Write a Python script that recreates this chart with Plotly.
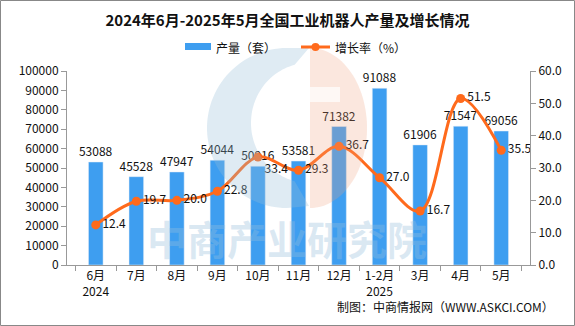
import numpy as np
import plotly.graph_objects as go

months = ["6月<br>2024", "7月", "8月", "9月", "10月", "11月", "12月", "1-2月<br>2025", "3月", "4月", "5月"]
output = [53088, 45528, 47947, 54044, 50916, 53581, 71382, 91088, 61906, 71547, 69056]
growth = [12.4, 19.7, 20.0, 22.8, 33.4, 29.3, 36.7, 27.0, 16.7, 51.5, 35.5]
growth_label_pos = ["middle right"] * 4 + ["bottom right"] + ["middle right"] * 6

W, H = 575, 326
L, R, T, B = 67, 45, 71, 61
PW, PH = W - L - R, H - T - B

BAR_C = "#3E9EF0"
LINE_C = "#FF6A1C"

def px(x):
    return (x - L) / PW

def py(y):
    return (H - B - y) / PH

def poly(points):
    return "M " + " L ".join(f"{px(x):.4f},{py(y):.4f}" for x, y in points) + " Z"

CJK = "Noto Sans CJK SC"

fig = go.Figure()
fig.add_trace(go.Bar(
    x=months, y=output, name="产量（套）",
    marker=dict(color=BAR_C),
    text=[str(v) for v in output], textposition="outside",
    textfont=dict(family=CJK, size=12, color="#111"),
    constraintext="none",
    cliponaxis=False, width=0.36, showlegend=False,
))
fig.add_trace(go.Scatter(
    x=months, y=growth, name="增长率（%）", yaxis="y2",
    mode="lines+markers+text",
    line=dict(color=LINE_C, width=3, shape="spline", smoothing=1.0),
    marker=dict(color=LINE_C, size=9),
    text=[f"{v:.1f}" for v in growth], textposition=growth_label_pos,
    textfont=dict(family=CJK, size=12, color="#111"),
    cliponaxis=False, showlegend=False,
))

shapes = []
# Watermark logo (decorative)
cx, cy, r = 287, 128, 80
th = np.linspace(np.pi / 2, 3 * np.pi / 2, 60)
outer = [(cx + r * np.cos(t), cy - r * np.sin(t)) for t in th]
th2 = np.linspace(3 * np.pi / 2 - 0.25, np.pi / 2 + 0.25, 60)
inner = [(cx + 22 + 58 * np.cos(t), cy - 5 - 60 * np.sin(t)) for t in th2]
blue_pts = [(cx + 22, cy - r)] + outer + [(cx + 22, cy + r - 2)] + inner
shapes.append(dict(type="path", path=poly(blue_pts), xref="paper", yref="paper",
                   fillcolor="rgba(150,190,215,0.30)", line=dict(width=0), layer="above"))
th3 = np.linspace(np.pi / 2, -np.pi / 2, 60)
orange = [(cx + 23 + 57 * np.cos(t), cy - r * np.sin(t)) for t in th3]
or_pts = [(cx + 23, cy - r)] + orange
shapes.append(dict(type="path", path=poly(or_pts), xref="paper", yref="paper",
                   fillcolor="rgba(240,160,125,0.25)", line=dict(width=0), layer="above"))
shapes.append(dict(type="rect", xref="paper", yref="paper",
                   x0=px(cx + 23), x1=px(cx + 53), y0=py(102), y1=py(87),
                   fillcolor="rgba(255,255,255,0.7)", line=dict(width=0), layer="above"))
# outer border
shapes.append(dict(type="rect", xref="paper", yref="paper",
                   x0=px(0.5), x1=px(W - 0.5), y0=py(H - 0.5), y1=py(0.5),
                   line=dict(color="#888", width=1), layer="below"))
# custom legend
shapes.append(dict(type="rect", xref="paper", yref="paper",
                   x0=px(185), x1=px(211), y0=py(50), y1=py(43),
                   fillcolor=BAR_C, line=dict(width=0)))
shapes.append(dict(type="line", xref="paper", yref="paper",
                   x0=px(301), x1=px(330), y0=py(47), y1=py(47),
                   line=dict(color=LINE_C, width=3)))
shapes.append(dict(type="circle", xref="paper", yref="paper",
                   x0=px(311.5), x1=px(319.5), y0=py(51), y1=py(43),
                   fillcolor=LINE_C, line=dict(width=0)))

annotations = [
    dict(text="<b>中商产业研究院</b>", x=px(287), y=py(238), xref="paper", yref="paper",
         showarrow=False, font=dict(family=CJK, size=40, color="rgba(150,190,220,0.35)"),
         xanchor="center", yanchor="middle"),
    dict(text="制图：中商情报网（WWW.ASKCI.COM）", x=px(556), y=py(306), xref="paper", yref="paper",
         showarrow=False, font=dict(family=CJK, size=12, color="#111"),
         xanchor="right", yanchor="middle"),
    dict(text="产量（套）", x=px(214), y=py(47), xref="paper", yref="paper",
         showarrow=False, font=dict(family=CJK, size=12, color="#111"),
         xanchor="left", yanchor="middle"),
    dict(text="增长率（%）", x=px(333), y=py(47), xref="paper", yref="paper",
         showarrow=False, font=dict(family=CJK, size=12, color="#111"),
         xanchor="left", yanchor="middle"),
]

fig.update_layout(
    width=W, height=H,
    margin=dict(l=L, r=R, t=T, b=B),
    paper_bgcolor="white", plot_bgcolor="white",
    title=dict(text="<b>2024年6月-2025年5月全国工业机器人产量及增长情况</b>",
               x=0.5, xanchor="center", y=1 - 21 / H, yanchor="middle",
               font=dict(family=CJK, size=15, color="#111")),
    showlegend=False,
    bargap=0.64,
    xaxis=dict(showline=True, linecolor="#999", ticks="outside", tickson="boundaries",
               ticklen=5, tickcolor="#999", showgrid=False,
               tickfont=dict(family=CJK, size=12, color="#111")),
    yaxis=dict(range=[0, 100000], dtick=10000, showline=True, linecolor="#999",
               ticks="outside", ticklen=5, tickcolor="#999", showgrid=False,
               zeroline=False, tickformat="d",
               tickfont=dict(family=CJK, size=12, color="#111")),
    yaxis2=dict(range=[0, 60], dtick=10, overlaying="y", side="right",
                showline=True, linecolor="#999", ticks="outside", ticklen=5,
                tickcolor="#999", showgrid=False, zeroline=False, tickformat=".1f",
                tickfont=dict(family=CJK, size=12, color="#111")),
    shapes=shapes, annotations=annotations,
)

fig.write_html("out.html")
